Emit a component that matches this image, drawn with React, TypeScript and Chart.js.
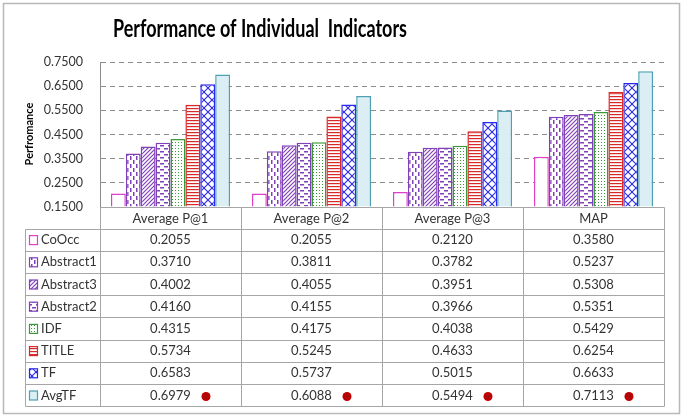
import React, { useEffect, useRef } from 'react';
import { Chart, registerables } from 'chart.js';

Chart.register(...registerables);

const categories = ['Average P@1', 'Average P@2', 'Average P@3', 'MAP'];
const seriesNames = ['CoOcc', 'Abstract1', 'Abstract3', 'Abstract2', 'IDF', 'TITLE', 'TF', 'AvgTF'];
const coOcc = [0.2055, 0.2055, 0.212, 0.358];
const abstract1 = [0.371, 0.3811, 0.3782, 0.5237];
const abstract3 = [0.4002, 0.4055, 0.3951, 0.5308];
const abstract2 = [0.416, 0.4155, 0.3966, 0.5351];
const idf = [0.4315, 0.4175, 0.4038, 0.5429];
const titleSeries = [0.5734, 0.5245, 0.4633, 0.6254];
const tf = [0.6583, 0.5737, 0.5015, 0.6633];
const avgTF = [0.6979, 0.6088, 0.5494, 0.7113];
const seriesValues = [coOcc, abstract1, abstract3, abstract2, idf, titleSeries, tf, avgTF];
const yTickValues = [0.15, 0.25, 0.35, 0.45, 0.55, 0.65, 0.75];
const markedSeries = 'AvgTF';

const FONT = 'Lato, "Noto Sans", sans-serif';

type Kind = 'none' | 'vdash' | 'diag' | 'hdash' | 'dots' | 'hlines' | 'cross' | 'solid';
const styles: { kind: Kind; color: string; bg: string }[] = [
  { kind: 'none', color: '#E040C8', bg: '#ffffff' },
  { kind: 'vdash', color: '#8040B8', bg: '#ffffff' },
  { kind: 'diag', color: '#8040B8', bg: '#ffffff' },
  { kind: 'hdash', color: '#8040B8', bg: '#ffffff' },
  { kind: 'dots', color: '#3A9A3A', bg: '#ffffff' },
  { kind: 'hlines', color: '#D82828', bg: '#ffffff' },
  { kind: 'cross', color: '#2828F0', bg: '#ffffff' },
  { kind: 'solid', color: '#4BA0B4', bg: '#DAEEF3' },
];

function makePattern(kind: Kind, color: string, bg: string): CanvasPattern | string {
  if (kind === 'none' || kind === 'solid') return bg;
  const c = document.createElement('canvas');
  let w = 6, h = 6;
  if (kind === 'vdash') { w = 6; h = 8; }
  if (kind === 'diag') { w = 4; h = 4; }
  if (kind === 'hdash') { w = 8; h = 6; }
  if (kind === 'dots') { w = 3; h = 3; }
  if (kind === 'hlines') { w = 4; h = 3; }
  if (kind === 'cross') { w = 8; h = 8; }
  c.width = w; c.height = h;
  const g = c.getContext('2d')!;
  g.fillStyle = bg; g.fillRect(0, 0, w, h);
  g.fillStyle = color; g.strokeStyle = color;
  if (kind === 'vdash') {
    g.fillRect(1, 0, 1.5, 4);
    g.fillRect(4, 4, 1.5, 4);
  } else if (kind === 'diag') {
    g.lineWidth = 1.2;
    g.beginPath();
    g.moveTo(-1, 5); g.lineTo(5, -1);
    g.moveTo(-1, 1); g.lineTo(1, -1);
    g.moveTo(3, 5); g.lineTo(5, 3);
    g.stroke();
  } else if (kind === 'hdash') {
    g.fillRect(0, 1, 4, 1.5);
    g.fillRect(4, 4, 4, 1.5);
  } else if (kind === 'dots') {
    g.fillRect(1, 1, 1, 1);
  } else if (kind === 'hlines') {
    g.fillRect(0, 0, w, 1.2);
  } else if (kind === 'cross') {
    g.lineWidth = 1.1;
    g.beginPath();
    g.moveTo(0, 0); g.lineTo(8, 8);
    g.moveTo(8, 0); g.lineTo(0, 8);
    g.stroke();
  }
  return g.createPattern(c, 'repeat')!;
}

export default function App() {
  const ref = useRef<HTMLCanvasElement | null>(null);

  useEffect(() => {
    document.body.style.margin = '0';
    const canvas = ref.current!;
    const fills = styles.map((s) => makePattern(s.kind, s.color, s.bg));

    const framePlugin = {
      id: 'frame',
      beforeDraw(chart: any) {
        const ctx = chart.ctx as CanvasRenderingContext2D;
        ctx.save();
        ctx.fillStyle = '#ffffff';
        ctx.fillRect(0, 0, chart.width, chart.height);
        ctx.strokeStyle = '#b8b8b8';
        ctx.lineWidth = 1.5;
        ctx.strokeRect(3.5, 3.5, 676, 410);
        // title
        ctx.save();
        ctx.fillStyle = '#000';
        ctx.font = `bold 24px ${FONT}`;
        ctx.textAlign = 'center';
        ctx.textBaseline = 'middle';
        const t = 'Performance of Individual  Indicators';
        const tw = ctx.measureText(t).width;
        const sx = 294 / tw;
        ctx.translate(260, 29);
        ctx.scale(sx, 1);
        ctx.fillText(t, 0, 0);
        ctx.restore();
        // y title
        ctx.fillStyle = '#000';
        ctx.textAlign = 'center';
        ctx.textBaseline = 'middle';
        ctx.translate(29, 134);
        ctx.rotate(-Math.PI / 2);
        ctx.font = `bold 11px ${FONT}`;
        ctx.fillText('Perfromance', 0, 0);
        ctx.restore();
      },
      afterDraw(chart: any) {
        const ctx = chart.ctx as CanvasRenderingContext2D;
        const ca = chart.chartArea;
        const xs = chart.scales.x;
        const n = categories.length;
        const colW = (xs.right - xs.left) / n;
        const bounds: number[] = [];
        for (let i = 0; i <= n; i++) bounds.push(Math.round(xs.left + i * colW) + 0.5);
        const legendLeft = 25.5;
        const top = Math.round(ca.bottom) + 0.5;
        const headH = 21;
        const rowH = 22.2;
        const rowsTop = top + headH;
        const nr = seriesNames.length;
        const bottom = Math.round(rowsTop + nr * rowH) + 0.5;
        ctx.save();
        ctx.strokeStyle = '#a6a6a6';
        ctx.lineWidth = 1;
        ctx.beginPath();
        ctx.moveTo(bounds[0], top); ctx.lineTo(bounds[n], top);
        for (let r = 0; r <= nr; r++) {
          const y = Math.round(rowsTop + r * rowH) + 0.5;
          ctx.moveTo(legendLeft, y); ctx.lineTo(bounds[n], y);
        }
        for (let i = 0; i <= n; i++) {
          ctx.moveTo(bounds[i], top); ctx.lineTo(bounds[i], bottom);
        }
        ctx.moveTo(legendLeft, Math.round(rowsTop) + 0.5); ctx.lineTo(legendLeft, bottom);
        ctx.stroke();

        ctx.fillStyle = '#333';
        ctx.font = `13px ${FONT}`;
        ctx.textBaseline = 'middle';
        ctx.textAlign = 'center';
        categories.forEach((c, i) => {
          ctx.fillText(c, xs.getPixelForValue(i), top + headH / 2 + 0.5);
        });
        seriesNames.forEach((name, r) => {
          const cy = rowsTop + r * rowH + rowH / 2 + 0.5;
          const s = styles[r];
          ctx.fillStyle = fills[r] as any;
          ctx.fillRect(29.5, cy - 4.5, 8, 9);
          ctx.strokeStyle = s.color;
          ctx.lineWidth = 1.2;
          ctx.strokeRect(29.5, cy - 4.5, 8, 9);
          ctx.fillStyle = '#333';
          ctx.textAlign = 'left';
          ctx.fillText(name, 41, cy);
          ctx.textAlign = 'center';
          seriesValues[r].forEach((v, i) => {
            const cx = xs.getPixelForValue(i);
            ctx.fillStyle = '#333';
            ctx.fillText(v.toFixed(4), cx, cy);
            if (name === markedSeries) {
              ctx.beginPath();
              ctx.arc(cx + 35.5, cy + 1, 4.5, 0, Math.PI * 2);
              ctx.fillStyle = '#C00000';
              ctx.fill();
              ctx.beginPath();
              ctx.arc(cx + 35.5, cy + 1, 2, 0, Math.PI * 2);
              ctx.fillStyle = '#A01010';
              ctx.fill();
            }
          });
        });
        ctx.restore();
      },
    };

    const chart = new Chart(canvas, {
      type: 'bar',
      data: {
        labels: categories,
        datasets: seriesNames.map((name, i) => ({
          label: name,
          data: seriesValues[i],
          backgroundColor: fills[i] as any,
          borderColor: styles[i].color,
          borderWidth: 1.5,
          categoryPercentage: 0.845,
          barPercentage: 1,
          base: 0.15,
        })),
      },
      options: {
        responsive: false,
        animation: false,
        devicePixelRatio: 1,
        layout: { padding: { top: 62, left: 0, right: 21, bottom: 212 } },
        plugins: {
          legend: { display: false },
          title: { display: false },
          tooltip: { enabled: false },
        },
        scales: {
          x: { display: false, offset: true },
          y: {
            min: 0.15,
            max: 0.75,
            afterFit: (s: any) => { s.width = 100; },
            afterBuildTicks: (s: any) => { s.ticks = yTickValues.map((v) => ({ value: v })); },
            ticks: {
              padding: 17,
              color: '#333',
              font: { family: FONT, size: 12.5 },
              callback: (v: any) => Number(v).toFixed(4),
            },
            grid: { color: '#8c8c8c', drawTicks: false, lineWidth: 1 },
            border: { display: true, color: '#8c8c8c', dash: [5, 4] },
          },
        },
      } as any,
      plugins: [framePlugin],
    });
    return () => chart.destroy();
  }, []);

  return <canvas ref={ref} width={685} height={419} style={{ display: 'block', width: 685, height: 419 }} />;
}
